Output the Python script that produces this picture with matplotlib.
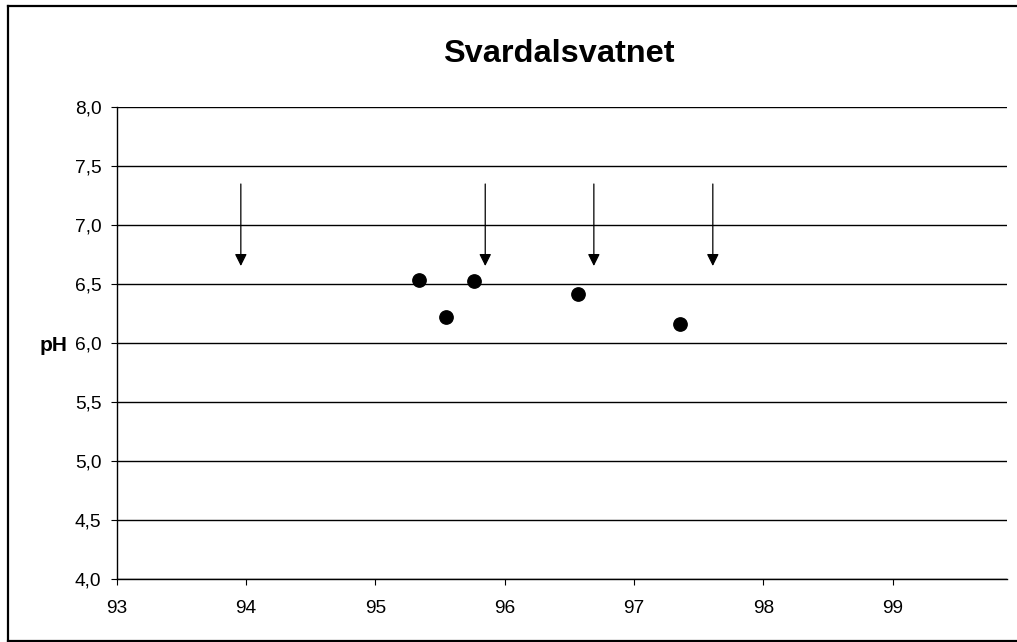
import matplotlib
matplotlib.use("Agg")
import matplotlib.pyplot as plt
from matplotlib.lines import Line2D
from matplotlib.ticker import FuncFormatter, MultipleLocator

plt.rcParams['font.family'] = ['Liberation Sans', 'DejaVu Sans']

# Data
title = "Svardalsvatnet"
y_label = "pH"
sample_x = [95.34, 95.55, 95.76, 96.57, 97.36]
sample_ph = [6.54, 6.22, 6.53, 6.42, 6.16]
arrow_x = [93.96, 95.85, 96.69, 97.61]
arrow_top = 7.35
arrow_tip = 6.655
x_ticks = [93, 94, 95, 96, 97, 98, 99]
x_limits = (93, 99.885)
y_limits = (4.0, 8.0)

W, H = 1017, 642
fig = plt.figure(figsize=(W / 100, H / 100), dpi=100)
ax = fig.add_axes([116.7 / W, 1 - 579.3 / H, (1007 - 116.7) / W, (579.3 - 107.3) / H])

ax.set_xlim(*x_limits)
ax.set_ylim(*y_limits)
ax.set_xticks(x_ticks)
ax.yaxis.set_major_locator(MultipleLocator(0.5))
ax.yaxis.set_major_formatter(FuncFormatter(lambda v, p: f"{v:.1f}".replace('.', ',')))
ax.xaxis.set_major_formatter(FuncFormatter(lambda v, p: f"{int(round(v))}"))

ax.grid(axis='y', color='black', linewidth=1.0)
ax.set_axisbelow(True)
for s in ['top', 'right']:
    ax.spines[s].set_visible(False)
for s in ['left', 'bottom']:
    ax.spines[s].set_color('black')
    ax.spines[s].set_linewidth(1.0)

ax.tick_params(axis='both', direction='out', length=4.5, width=0.8, colors='black', labelsize=13.8)
ax.tick_params(axis='y', pad=6.5)
ax.tick_params(axis='x', pad=10.5)

ax.plot(sample_x, sample_ph, linestyle='none', marker='o', markersize=9.6,
        color='black', zorder=5, clip_on=False)

for xa in arrow_x:
    ax.annotate('', xy=(xa, arrow_tip), xytext=(xa, arrow_top),
                arrowprops=dict(arrowstyle='-|>', color='black', lw=0.9,
                                mutation_scale=18, shrinkA=0, shrinkB=0))

fig.text(559 / W, 1 - 61.7 / H, title, ha='center', va='baseline',
         fontsize=23.4, fontweight='bold')
fig.text(67.7 / W, 1 - 351 / H, y_label, ha='right', va='baseline',
         fontsize=15, fontweight='bold')

# outer frame
lw = 1.6
fig.add_artist(Line2D([7.8 / W, 7.8 / W], [1 - 5.8 / H, 0.5 / H], transform=fig.transFigure,
                      color='black', linewidth=lw, solid_capstyle='projecting'))
fig.add_artist(Line2D([7.8 / W, 1.0], [1 - 5.8 / H, 1 - 5.8 / H], transform=fig.transFigure,
                      color='black', linewidth=lw, solid_capstyle='projecting'))
fig.add_artist(Line2D([7.8 / W, 1.0], [0.8 / H, 0.8 / H], transform=fig.transFigure,
                      color='black', linewidth=lw, solid_capstyle='projecting'))

fig.savefig("out.png", dpi=100)
